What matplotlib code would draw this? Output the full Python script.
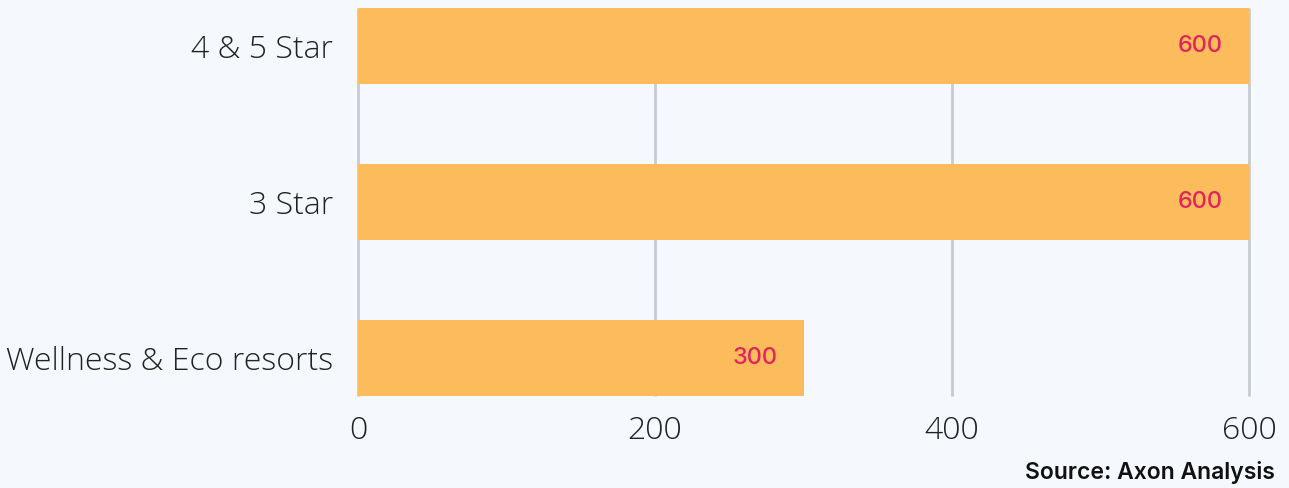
import matplotlib.pyplot as plt

categories = ['Wellness & Eco resorts', '3 Star', '4 & 5 Star']
values = [300, 600, 600]
xticks = [0, 200, 400, 600]

bg = '#F5F9FD'
bar_color = '#FDBC5B'
label_color = '#E0245E'

fig = plt.figure(figsize=(12.89, 4.88), dpi=100, facecolor=bg)
ax = fig.add_axes([358 / 1289, 92 / 488, 891 / 1289, 388 / 488])
ax.set_facecolor(bg)

h = 0.487
ax.barh(range(len(categories)), values, height=h, color=bar_color, zorder=2)

for i, v in enumerate(values):
    ax.annotate(str(v), xy=(v, i), xytext=(-26, 0), textcoords='offset pixels',
                ha='right', va='center', color=label_color, fontsize=17,
                fontweight='medium', family='Inter', zorder=3)

ax.set_xlim(0, 600)
ax.set_ylim(-h / 2, len(categories) - 1 + h / 2)
ax.set_xticks(xticks)
ax.set_yticks(range(len(categories)))
ax.set_yticklabels(categories)
ax.tick_params(axis='both', length=0, labelsize=23, colors='#222222')
ax.tick_params(axis='y', pad=18)
ax.tick_params(axis='x', pad=14)
for lab in ax.get_xticklabels() + ax.get_yticklabels():
    lab.set_family('Open Sans')
    lab.set_fontweight('light')

ax.grid(axis='x', color='#C5CBD1', linewidth=2, zorder=1)
for gl in ax.get_xgridlines():
    gl.set_clip_on(False)
    gl.set_solid_capstyle('butt')
ax.set_axisbelow(True)
for s in ax.spines.values():
    s.set_visible(False)

fig.text(1275 / 1289, 1 - 472 / 488, 'Source: Axon Analysis', ha='right', va='center',
         fontsize=16.5, fontweight='semibold', family='Inter', color='#111111')

fig.savefig('out.png', dpi=100, facecolor=bg)
